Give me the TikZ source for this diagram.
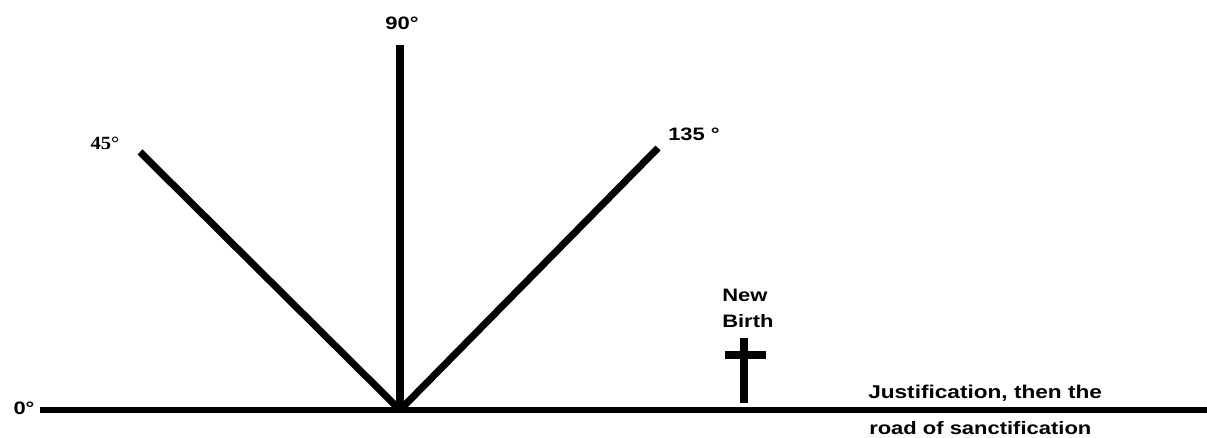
\documentclass[tikz,border=0pt]{standalone}
\usepackage{fontspec}
\setmainfont{Liberation Sans}[FakeStretch=1.22]
\newfontfamily\serifb{Liberation Serif}[FakeStretch=1.1]
\begin{document}
\begin{tikzpicture}[x=0.75pt,y=-0.75pt,
  ray/.style={line width=5.3pt,line cap=butt,black},
  lbl/.style={font=\bfseries\fontsize{13.5}{15}\selectfont,inner sep=0pt},
  crossbar/.style={fill=black,draw=none}]
\useasboundingbox (0,0) rectangle (1207,438);
\fill[white] (0,0) rectangle (1207,438);
\coordinate (o) at (400,410);
\coordinate (left) at (40,410);
\coordinate (right) at (1207,410);
\coordinate (top) at (400,45);
\coordinate (d45) at (140,152);
\coordinate (d135) at (658,148);
\draw[ray,line width=4.5pt] (left) -- (right);
\draw[ray] (o) -- (top);
\draw[ray] (o) -- (d45);
\draw[ray] (o) -- (d135);
\node[lbl] (l0) at (24,408) {0°};
\node[lbl] (l90) at (402,23) {90°};
\node[lbl,font=\serifb\bfseries\fontsize{14}{15}\selectfont] (l45) at (105,143) {45°};
\node[lbl,anchor=west] (l135) at (668,134) {135 °};
\node[lbl,anchor=north west,align=left,font=\bfseries\fontsize{13.5}{19.5}\selectfont] (nb) at (722,289) {New\\Birth};
\fill[crossbar] (740,338) rectangle (748,403);
\fill[crossbar] (725,351) rectangle (766,359);
\node[lbl,anchor=west,font=\bfseries\fontsize{13.9}{15}\selectfont] (j1) at (868,393) {Justification, then the};
\node[lbl,anchor=west] (j2) at (869,428) {road of sanctification};
\end{tikzpicture}
\end{document}
